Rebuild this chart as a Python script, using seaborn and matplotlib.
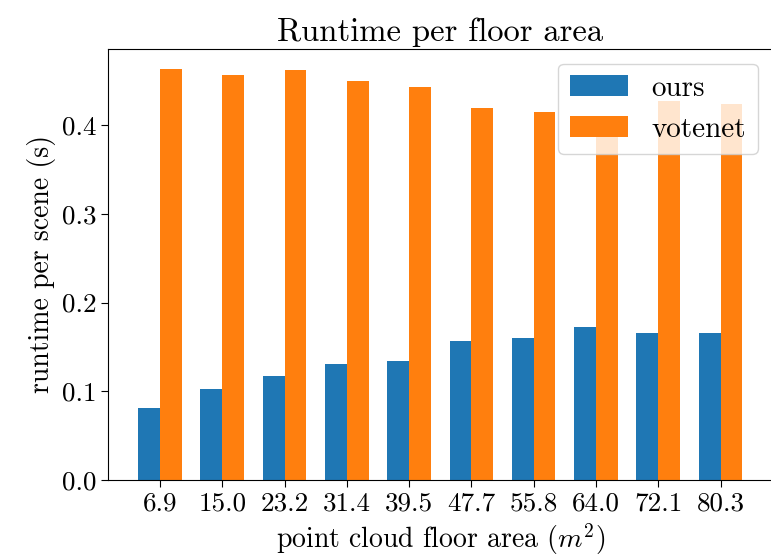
import numpy as np
import pandas as pd
import matplotlib
matplotlib.use("Agg")
import matplotlib.pyplot as plt
import seaborn as sns

# values
floor_area = ["6.9", "15.0", "23.2", "31.4", "39.5", "47.7", "55.8", "64.0", "72.1", "80.3"]
ours = [0.081, 0.103, 0.117, 0.131, 0.134, 0.157, 0.160, 0.172, 0.166, 0.166]
votenet = [0.463, 0.457, 0.462, 0.450, 0.443, 0.419, 0.415, 0.411, 0.427, 0.424]
methods = ["ours", "votenet"]
colors = ["#1f77b4", "#ff7f0e"]

# font setup (Computer Modern look)
plt.rcParams["font.family"] = "serif"
plt.rcParams["font.serif"] = ["cmr10", "DejaVu Serif"]
plt.rcParams["mathtext.fontset"] = "cm"
plt.rcParams["axes.unicode_minus"] = False
plt.rcParams["axes.formatter.use_mathtext"] = True

df = pd.DataFrame({
    "area": floor_area * 2,
    "runtime": ours + votenet,
    "method": [methods[0]] * len(ours) + [methods[1]] * len(votenet),
})

fig = plt.figure(figsize=(7.71, 5.56), dpi=100)
ax = fig.add_axes([0.140, 0.137, 0.862, 0.775])

sns.barplot(data=df, x="area", y="runtime", hue="method", order=floor_area,
            hue_order=methods, palette=colors, saturation=1, width=0.7,
            linewidth=0, ax=ax)

ax.set_xlim(-0.835, 9.835)
ax.set_ylim(0, max(votenet) * 1.05)
ax.set_yticks([0.0, 0.1, 0.2, 0.3, 0.4])
ax.set_yticklabels(["0.0", "0.1", "0.2", "0.3", "0.4"])
ax.tick_params(labelsize=19.5, length=5)

ax.set_title("Runtime per floor area", fontsize=23.5)
ax.set_xlabel("point cloud floor area ($m^2$)", fontsize=20)
ax.set_ylabel("runtime per scene (s)", fontsize=20)

ax.legend(loc="upper right", fontsize=21, title=None)

# the right border falls off the cropped reference image
ax.spines["right"].set_visible(False)
for s in ax.spines.values():
    s.set_color("black")

plt.savefig("out.png", dpi=100)
